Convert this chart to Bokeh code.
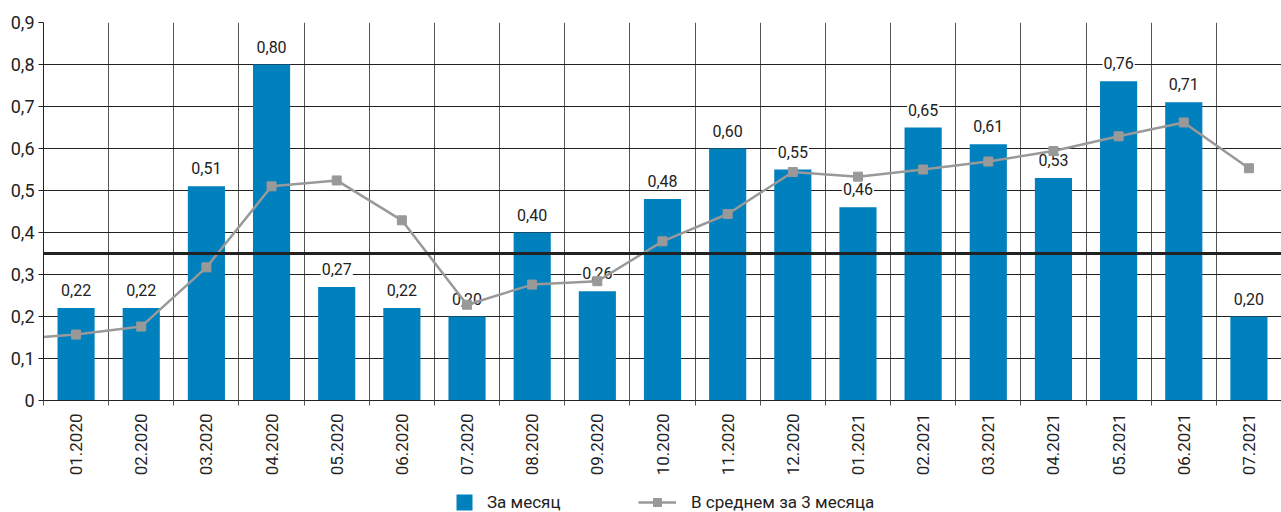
import math
from bokeh.plotting import figure
from bokeh.layouts import column
from bokeh.models import (ColumnDataSource, FixedTicker, CustomJSTickFormatter, Span,
                          Legend, LegendItem, Range1d)
from bokeh.core.properties import value
from bokeh.embed import file_html
from bokeh.resources import INLINE

months = ["01.2020", "02.2020", "03.2020", "04.2020", "05.2020", "06.2020", "07.2020",
          "08.2020", "09.2020", "10.2020", "11.2020", "12.2020", "01.2021", "02.2021",
          "03.2021", "04.2021", "05.2021", "06.2021", "07.2021"]
monthly = [0.22, 0.22, 0.51, 0.80, 0.27, 0.22, 0.20, 0.40, 0.26, 0.48, 0.60, 0.55,
           0.46, 0.65, 0.61, 0.53, 0.76, 0.71, 0.20]
avg3 = [0.157, 0.176, 0.317, 0.51, 0.524, 0.429, 0.228, 0.276, 0.284, 0.379, 0.444,
        0.544, 0.533, 0.55, 0.569, 0.594, 0.629, 0.662, 0.553]
prev_avg3 = 0.145   # 12.2019, only visible as the line entering from the left edge
threshold = 0.35
y_ticks = [0, 0.1, 0.2, 0.3, 0.4, 0.5, 0.6, 0.7, 0.8, 0.9]
legend_labels = ["За месяц", "В среднем за 3 месяца"]

FONT = "Roboto"
BLUE = "#0080BC"
GREY = "#999999"
DARK = "#222222"

idx = list(range(len(months)))
src = ColumnDataSource(dict(
    x=idx, m=monthly, a=avg3, months=months,
    lbl=[("%.2f" % v).replace(".", ",") for v in monthly],
))
line_src = ColumnDataSource(dict(x=[-1] + idx, a=[prev_avg3] + avg3))

p = figure(width=1281, height=492, output_backend="svg", toolbar_location=None,
           x_range=Range1d(-0.5, len(months) - 0.5), y_range=Range1d(0, 0.9),
           min_border_left=43, min_border_right=0, min_border_top=22, min_border_bottom=92)
p.outline_line_color = None
p.background_fill_color = "white"

# grids
p.ygrid.ticker = FixedTicker(ticks=y_ticks)
p.ygrid.grid_line_color = DARK
p.ygrid.grid_line_width = 1
boundaries = [i - 0.5 for i in range(len(months) + 1)]
p.xaxis.ticker = FixedTicker(ticks=idx, minor_ticks=boundaries)
p.xgrid.ticker = FixedTicker(ticks=idx, minor_ticks=boundaries)
p.xgrid.grid_line_color = None
p.xgrid.minor_grid_line_color = "#555555"
p.xgrid.minor_grid_line_width = 1

# axes
p.yaxis.ticker = FixedTicker(ticks=y_ticks)
p.yaxis.formatter = CustomJSTickFormatter(
    code="return tick == 0 ? '0' : tick.toFixed(1).replace('.', ',');")
p.yaxis.major_label_text_font = FONT
p.yaxis.major_label_text_font_size = "18px"
p.yaxis.major_label_text_color = DARK
p.yaxis.axis_line_color = DARK
p.yaxis.major_tick_line_color = DARK
p.yaxis.major_tick_out = 5
p.yaxis.major_tick_in = 0
p.yaxis.minor_tick_line_color = None
p.yaxis.major_label_standoff = 4

p.xaxis.major_label_overrides = {i: m for i, m in enumerate(months)}
p.xaxis.major_label_orientation = math.pi / 2
p.xaxis.major_label_text_font = FONT
p.xaxis.major_label_text_font_size = "17px"
p.xaxis.major_label_text_color = DARK
p.xaxis.major_tick_line_color = None
p.xaxis.major_tick_out = 0
p.xaxis.major_tick_in = 0
p.xaxis.minor_tick_line_color = "#555555"
p.xaxis.minor_tick_out = 5
p.xaxis.minor_tick_in = 0
p.xaxis.axis_line_color = DARK
p.xaxis.major_label_standoff = 8

# bars
p.vbar(x="x", top="m", width=0.57, source=src, fill_color=BLUE, line_color=None)

# threshold
p.add_layout(Span(location=threshold, dimension="width", line_color=DARK, line_width=3))

# value labels (under the line)
p.text(x="x", y="m", text="lbl", source=src, text_align="center", text_baseline="bottom",
       y_offset=-11, text_font=value(FONT), text_font_size="16px", text_color=DARK,
       background_fill_color="white", padding=1)

# 3-month average
p.line(x="x", y="a", source=line_src, line_color=GREY, line_width=2.5)
p.scatter(x="x", y="a", source=src, marker="square", size=9, fill_color=GREY,
          line_color=GREY)

# legend strip (its frame is aligned with the chart frame, which starts at x=43)
lg = figure(width=1281, height=20, output_backend="svg", toolbar_location=None,
            x_range=Range1d(0, 1), y_range=Range1d(0, 1),
            min_border_left=43, min_border_right=0, min_border_top=0, min_border_bottom=0)
lg.outline_line_color = None
lg.axis.visible = False
lg.grid.visible = False
offscreen = ColumnDataSource(dict(x=[5, 6], y=[5, 6]))
r_bar = lg.vbar(x="x", top="y", width=0.1, source=offscreen, fill_color=BLUE, line_color=None)
r_line = lg.line(x="x", y="y", source=offscreen, line_color=GREY, line_width=2.5)
r_mark = lg.scatter(x="x", y="y", source=offscreen, marker="square", fill_color=GREY,
                    line_color=GREY)
common = dict(orientation="horizontal", label_text_font=FONT, label_text_font_size="17px",
              label_text_color=DARK, border_line_color=None, background_fill_alpha=0,
              padding=0, margin=0, spacing=0, glyph_height=20)
leg1 = Legend(items=[LegendItem(label=legend_labels[0], renderers=[r_bar])],
              location=(411, 0), glyph_width=20, label_standoff=13, **common)
leg2 = Legend(items=[LegendItem(label=legend_labels[1], renderers=[r_line, r_mark])],
              location=(595, 0), glyph_width=38, label_standoff=15, **common)
lg.add_layout(leg1)
lg.add_layout(leg2)

open("out.html", "w").write(file_html(column(p, lg, spacing=0), INLINE))
